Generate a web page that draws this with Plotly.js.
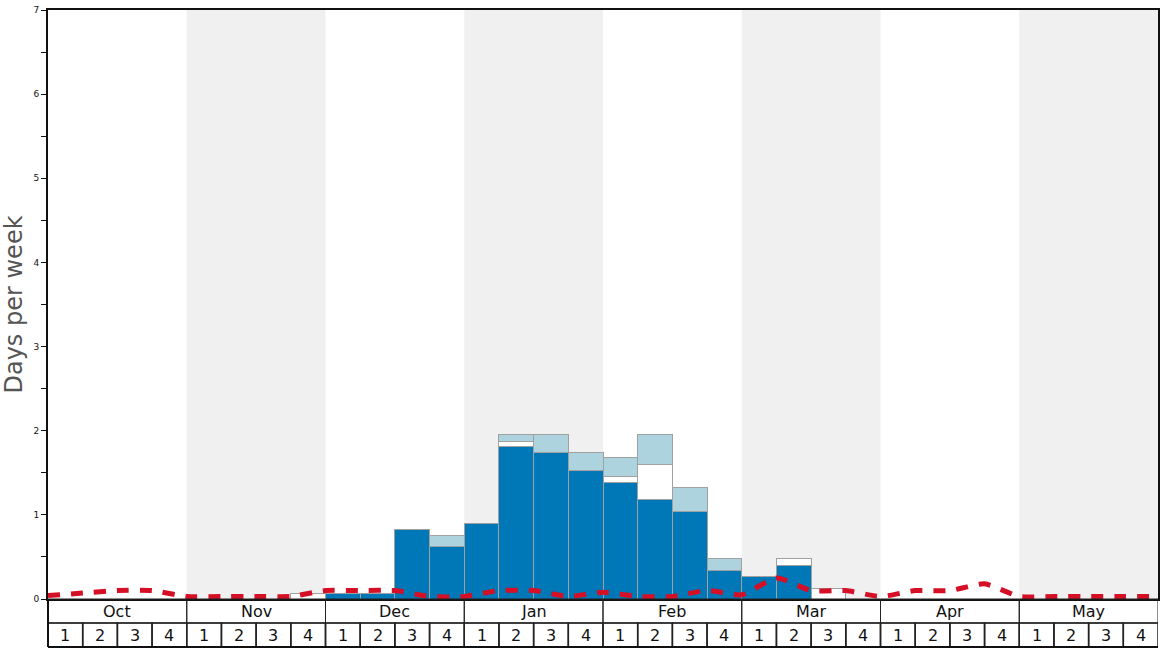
<!DOCTYPE html>
<html>
<head>
<meta charset="utf-8">
<script src="https://cdn.plot.ly/plotly-3.0.1.min.js"></script>
<style>html,body{margin:0;padding:0;background:#fff;}#chart{width:1168px;height:648px;}</style>
</head>
<body>
<div id="chart"></div>
<script>
// ---- data ----
const months = ["Oct", "Nov", "Dec", "Jan", "Feb", "Mar", "Apr", "May"];
const weekLabels = ["1", "2", "3", "4"];
// weekly bar segments (32 weeks, Oct wk1 .. May wk4)
const darkDays = [
  0, 0, 0, 0,
  0, 0, 0, 0,
  0.07, 0.07, 0.83, 0.62,
  0.90, 1.81, 1.74, 1.53,
  1.39, 1.18, 1.04, 0.34,
  0.27, 0.40, 0, 0,
  0, 0, 0, 0,
  0, 0, 0, 0
];
const whiteDays = [
  0, 0, 0, 0,
  0, 0, 0, 0.07,
  0, 0, 0, 0,
  0, 0.06, 0, 0,
  0.07, 0.42, 0, 0,
  0, 0.08, 0.13, 0,
  0, 0, 0, 0,
  0, 0, 0, 0
];
const lightDays = [
  0, 0, 0, 0,
  0, 0, 0, 0,
  0, 0, 0, 0.14,
  0, 0.08, 0.21, 0.21,
  0.22, 0.35, 0.28, 0.14,
  0, 0, 0, 0,
  0, 0, 0, 0,
  0, 0, 0, 0
];
// red dashed line, values at week boundaries (33 points)
const avgLine = [
  0.04, 0.07, 0.10, 0.10,
  0.03, 0.03, 0.03, 0.03,
  0.10, 0.10, 0.10, 0.03,
  0.03, 0.10, 0.10, 0.03,
  0.08, 0.03, 0.03, 0.10,
  0.05, 0.25, 0.10, 0.10,
  0.03, 0.10, 0.10, 0.18,
  0.03, 0.03, 0.03, 0.03,
  0.03
];

// ---- build ----
const nW = darkDays.length;
const xc = darkDays.map((_, i) => i + 0.5);
const barLine = {color: '#a0a0a0', width: 1};
const traces = [
  {type: 'bar', x: xc, y: darkDays, width: 1, marker: {color: '#0077b6', line: barLine}, hoverinfo: 'skip'},
  {type: 'bar', x: xc, y: whiteDays, width: 1, marker: {color: '#ffffff', line: barLine}, hoverinfo: 'skip'},
  {type: 'bar', x: xc, y: lightDays, width: 1, marker: {color: '#add3df', line: barLine}, hoverinfo: 'skip'},
  {type: 'scatter', mode: 'lines', x: avgLine.map((_, i) => i), y: avgLine,
   line: {color: '#d50f25', width: 5, dash: '12px,11px', shape: 'spline', smoothing: 0.6}, hoverinfo: 'skip', cliponaxis: false}
];

const plotH = 589;
const row1 = -24 / plotH, row2 = -48 / plotH;
const shapes = [];
const annotations = [];
months.forEach((m, mi) => {
  if (mi % 2 === 1) {
    shapes.push({type: 'rect', xref: 'x', yref: 'paper', x0: mi * 4, x1: mi * 4 + 4, y0: 0, y1: 1,
      fillcolor: '#f0f0f0', line: {width: 0}, layer: 'below'});
  }
  // month box
  shapes.push({type: 'rect', xref: 'x', yref: 'paper', x0: mi * 4, x1: mi * 4 + 4, y0: row1, y1: 0,
    fillcolor: 'rgba(0,0,0,0)', line: {color: '#222', width: 1}});
  annotations.push({xref: 'x', yref: 'paper', x: mi * 4 + 2, y: row1 / 2, text: m, showarrow: false,
    font: {family: 'DejaVu Sans', size: 16, color: '#111'}, yanchor: 'middle', xanchor: 'center'});
  weekLabels.forEach((w, wi) => {
    const k = mi * 4 + wi;
    shapes.push({type: 'rect', xref: 'x', yref: 'paper', x0: k, x1: k + 1, y0: row2, y1: row1,
      fillcolor: 'rgba(0,0,0,0)', line: {color: '#222', width: 1.5}});
    annotations.push({xref: 'x', yref: 'paper', x: k + 0.5, y: (row1 + row2) / 2, text: w, showarrow: false,
      font: {family: 'DejaVu Sans', size: 16, color: '#111'}, yanchor: 'middle', xanchor: 'center'});
  });
});
// thick outer left/bottom edges of the label grid
shapes.push({type: 'line', xref: 'paper', yref: 'paper', x0: 0, x1: 0, y0: row2, y1: 0, line: {color: '#111', width: 2}});
shapes.push({type: 'line', xref: 'paper', yref: 'paper', x0: 0, x1: 1, y0: row2, y1: row2, line: {color: '#111', width: 2}});

const layout = {
  width: 1168, height: 648,
  margin: {l: 48, r: 10, t: 10, b: 49},
  paper_bgcolor: '#fff', plot_bgcolor: 'rgba(0,0,0,0)',
  barmode: 'stack', bargap: 0, showlegend: false,
  font: {family: 'DejaVu Sans', color: '#111'},
  xaxis: {range: [0, nW], showgrid: false, zeroline: false, showticklabels: false, ticks: '',
    showline: true, linecolor: '#111', linewidth: 2, mirror: true, fixedrange: true},
  yaxis: {range: [0, 7], dtick: 1, tick0: 0, showgrid: false, zeroline: false,
    ticks: 'outside', ticklen: 5, tickwidth: 1, tickcolor: '#111',
    minor: {dtick: 0.5, ticks: 'outside', ticklen: 5, tickcolor: '#111', showgrid: false},
    tickfont: {size: 9, color: '#111'},
    showline: true, linecolor: '#111', linewidth: 2, mirror: true,
    title: {text: 'Days per week', font: {size: 24, color: '#555'}, standoff: 9}},
  shapes: shapes,
  annotations: annotations
};
Plotly.newPlot('chart', traces, layout, {displayModeBar: false, staticPlot: true});
</script>
</body>
</html>
